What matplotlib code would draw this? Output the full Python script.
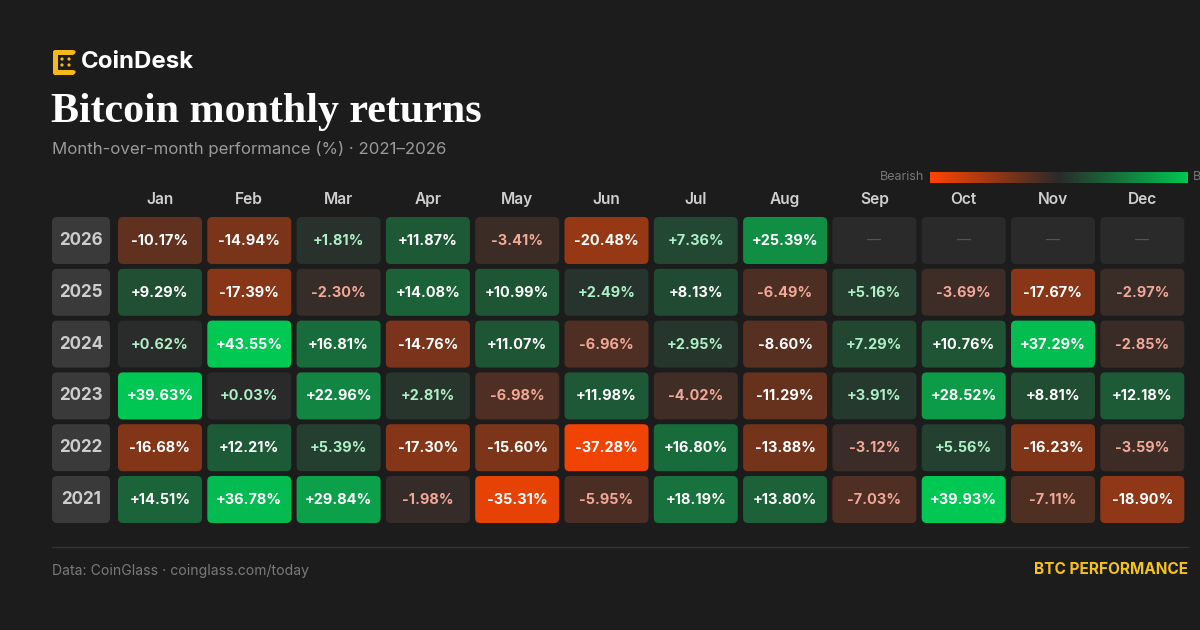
import matplotlib
matplotlib.use("Agg")
import matplotlib.pyplot as plt
from matplotlib.patches import FancyBboxPatch, Circle
import numpy as np

# ---------------- data ----------------
months = ["Jan", "Feb", "Mar", "Apr", "May", "Jun", "Jul", "Aug", "Sep", "Oct", "Nov", "Dec"]
years = [2026, 2025, 2024, 2023, 2022, 2021]
r2026 = [-10.17, -14.94, 1.81, 11.87, -3.41, -20.48, 7.36, 25.39, None, None, None, None]
r2025 = [9.29, -17.39, -2.30, 14.08, 10.99, 2.49, 8.13, -6.49, 5.16, -3.69, -17.67, -2.97]
r2024 = [0.62, 43.55, 16.81, -14.76, 11.07, -6.96, 2.95, -8.60, 7.29, 10.76, 37.29, -2.85]
r2023 = [39.63, 0.03, 22.96, 2.81, -6.98, 11.98, -4.02, -11.29, 3.91, 28.52, 8.81, 12.18]
r2022 = [-16.68, 12.21, 5.39, -17.30, -15.60, -37.28, 16.80, -13.88, -3.12, 5.56, -16.23, -3.59]
r2021 = [14.51, 36.78, 29.84, -1.98, -35.31, -5.95, 18.19, 13.80, -7.03, 39.93, -7.11, -18.90]
rows = [r2026, r2025, r2024, r2023, r2022, r2021]

title = "Bitcoin monthly returns"
subtitle = "Month-over-month performance (%) \u00b7 2021\u20132026"
source = "Data: CoinGlass \u00b7 coinglass.com/today"
tag = "BTC PERFORMANCE"

# ---------------- style ----------------
BG = "#1c1c1c"
BASE = np.array([42, 42, 42]) / 255
POS = np.array([0, 200, 83]) / 255
NEG = np.array([255, 69, 0]) / 255
VMAX = 40.0
SANS = ["Inter", "DejaVu Sans"]

def px(p):
    return p * 0.72

def cell_color(v):
    t = min(abs(v) / VMAX, 1.0)
    full = POS if v >= 0 else NEG
    return tuple(BASE + (full - BASE) * t)

def text_color(v):
    if abs(v) < 8:
        return "#aef0c6" if v >= 0 else "#f2a898"
    return "#ffffff"

fig = plt.figure(figsize=(12, 6.3), dpi=100, facecolor=BG)
ax = fig.add_axes([0, 0, 1, 1])
ax.set_xlim(0, 1200)
ax.set_ylim(630, 0)
ax.axis("off")
ax.set_facecolor(BG)

# ---------------- logo ----------------
Y = "#f5b91a"
ax.plot([54.5, 72], [52, 52], color=Y, lw=3.6, solid_capstyle="round")
ax.plot([54.5, 54.5], [52, 72], color=Y, lw=3.6, solid_capstyle="round")
ax.plot([54.5, 72], [72, 72], color=Y, lw=3.6, solid_capstyle="round")
for (cx, cy) in [(62, 59), (62, 65), (69, 59), (69, 65), (74, 52), (74, 72)]:
    ax.add_patch(Circle((cx, cy), 1.6, color=Y, lw=0))
ax.text(81, 62.5, "CoinDesk", color="white", fontsize=px(24), fontweight="bold",
        family=SANS, va="center", ha="left")

# ---------------- title ----------------
ax.text(51, 112, title, color="white", fontsize=px(42), fontweight="bold",
        family=["Liberation Serif", "DejaVu Serif"], va="center", ha="left")
ax.text(52, 149, subtitle, color="#9a9a9a", fontsize=px(16.8), family=SANS,
        va="center", ha="left")

# ---------------- legend ----------------
lx0, lx1, ly0, ly1 = 930, 1188, 172, 183
grad = np.linspace(-1, 1, 300)
gimg = np.array([cell_color(g * VMAX) for g in grad])[None, :, :]
ax.imshow(gimg, extent=[lx0, lx1, ly1, ly0], aspect="auto", interpolation="bilinear", zorder=2)
ax.text(924, 177.5, "Bearish", color="#777777", fontsize=px(12.5), family=SANS,
        va="center", ha="right")
ax.text(1193, 177.5, "Bullish", color="#777777", fontsize=px(12.5), family=SANS,
        va="center", ha="left", clip_on=False)

# ---------------- grid ----------------
X0, DX, W = 118, 89.3, 84
Y0, DY, H = 217, 51.8, 47
for i, m in enumerate(months):
    ax.text(X0 + i * DX + W / 2, 199.5, m, color="#cfcfcf", fontsize=px(15.5),
            fontweight="semibold", family=SANS, va="center", ha="center")

for j, (yr, vals) in enumerate(zip(years, rows)):
    y = Y0 + j * DY
    ax.add_patch(FancyBboxPatch((52, y), 58, H, boxstyle="round,pad=0,rounding_size=5",
                                fc="#3a3a3a", ec="none"))
    ax.text(81, y + H / 2, str(yr), color="#cdcdcd", fontsize=px(17), fontweight="bold",
            family=SANS, va="center", ha="center")
    for i, v in enumerate(vals):
        x = X0 + i * DX
        if v is None:
            ax.add_patch(FancyBboxPatch((x, y), W, H, boxstyle="round,pad=0,rounding_size=5",
                                        fc="#2a2a2a", ec="none"))
            ax.text(x + W / 2, y + H / 2, "\u2014", color="#555555", fontsize=px(14),
                    family=SANS, va="center", ha="center")
            continue
        ax.add_patch(FancyBboxPatch((x, y), W, H, boxstyle="round,pad=0,rounding_size=5",
                                    fc=cell_color(v), ec="none"))
        ax.text(x + W / 2, y + H / 2 + 0.5, f"{v:+.2f}%", color=text_color(v),
                fontsize=px(14.5), fontweight="bold", family=SANS,
                va="center", ha="center")

# ---------------- footer ----------------
ax.plot([52, 1188], [547, 547], color="#333333", lw=1)
ax.text(52, 571, source, color="#7a7a7a", fontsize=px(14), family=SANS,
        va="center", ha="left")
ax.text(1188, 570, tag, color="#f5c21b", fontsize=px(15.4), fontweight="bold",
        family=SANS, va="center", ha="right")

fig.savefig("out.png", dpi=100, facecolor=BG)
